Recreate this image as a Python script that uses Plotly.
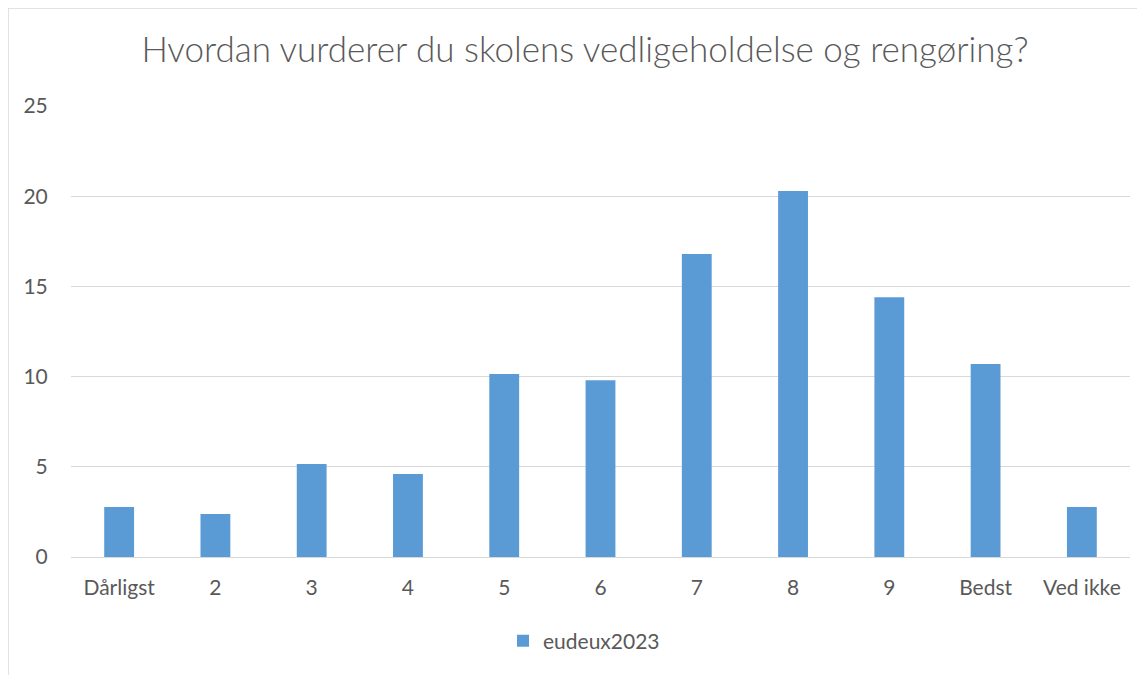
import plotly.graph_objects as go

categories = ["Dårligst", "2", "3", "4", "5", "6", "7", "8", "9", "Bedst", "Ved ikke"]
values = [2.77, 2.38, 5.16, 4.60, 10.14, 9.80, 16.80, 20.29, 14.40, 10.70, 2.77]
series_name = "eudeux2023"
title_text = "Hvordan vurderer du skolens vedligeholdelse og rengøring?"
y_ticks = [0, 5, 10, 15, 20, 25]

text_color = "#595959"
bar_color = "#5B9BD5"
grid_color = "#D9D9D9"
font_family = "Lato, 'Open Sans', sans-serif"

fig = go.Figure()
fig.add_trace(go.Bar(
    x=categories, y=values, name=series_name,
    marker=dict(color=bar_color, line=dict(width=0)),
    width=0.31, showlegend=True,
))

# page is offset by 8px body margin; work in figure coordinates
W, H = 1145, 675
L, T = 63, 98
pw, ph = 1059, 451
R = W - L - pw
B = H - T - ph
base = T + ph  # figure y of zero line

fig.update_layout(
    width=W, height=H,
    margin=dict(l=L, r=R, t=T, b=B, pad=0),
    paper_bgcolor="white", plot_bgcolor="white",
    font=dict(family=font_family, color=text_color, size=21),
    title=dict(text=title_text, x=(577) / W, xanchor="center",
               y=1 - 42 / H, yanchor="middle",
               font=dict(size=35, color=text_color, family=font_family, weight=300)),
    showlegend=True,
    legend=dict(orientation="h", x=(576 - L) / pw, xanchor="center",
                y=(base - 633) / ph, yanchor="middle",
                font=dict(size=21, color=text_color),
                itemwidth=30, itemsizing="constant"),
    bargap=0.69,
)
fig.update_xaxes(
    type="category", showgrid=False, showline=True, linecolor=grid_color, linewidth=1,
    ticks="outside", ticklen=12, tickcolor="rgba(0,0,0,0)",
    tickfont=dict(size=21, color=text_color), fixedrange=True,
)
fig.update_yaxes(
    range=[0, 25], tickvals=y_ticks, showgrid=True, gridcolor=grid_color, gridwidth=1,
    zeroline=False, showline=False,
    ticks="outside", ticklen=18, tickcolor="rgba(0,0,0,0)",
    tickfont=dict(size=21, color=text_color), fixedrange=True,
)
# outer chart border
fig.add_shape(type="rect", xref="paper", yref="paper",
              x0=(0 - L) / pw, x1=(W + 5 - L) / pw,
              y0=(base - (H + 5)) / ph, y1=(base - 0) / ph,
              line=dict(color=grid_color, width=1.5), fillcolor="rgba(0,0,0,0)", layer="below")

fig.write_html("out.html")
